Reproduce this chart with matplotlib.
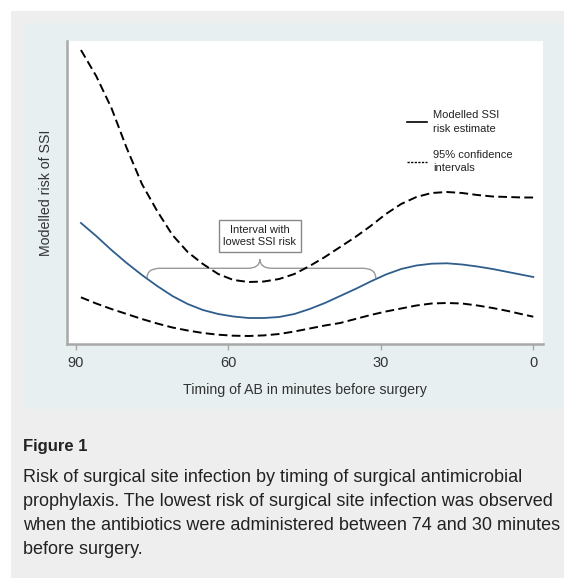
import matplotlib
matplotlib.use("Agg")
import matplotlib.pyplot as plt
from matplotlib.lines import Line2D
from matplotlib.patches import Rectangle, PathPatch
from matplotlib.path import Path

plt.rcParams["font.family"] = ["Liberation Sans", "DejaVu Sans"]

# ------------------------------
# Data (risk has no scale, arbitrary units)
# ------------------------------

minutes = [89, 86, 83, 80, 77, 74, 71, 68, 65, 62, 59, 56, 53, 50, 47, 44,
           41, 38, 35, 32, 29, 26, 23, 20, 17, 14, 11, 8, 5, 2, 0]

risk_estimate = [121, 108, 94, 81, 69, 58, 48, 40, 34, 30, 27.5, 26, 26, 27,
                 30, 35, 41, 48, 55, 62.5, 69.5, 75, 78.5, 80.3, 80.7, 79.5,
                 77.5, 75, 72, 69, 67]

ci_upper = [294, 268, 236, 196, 160, 133, 109, 92, 80, 70, 64, 62, 62.5, 65,
            70, 78, 87, 97, 107, 118, 130, 140, 147, 151, 152, 151, 149,
            147.5, 147, 146.5, 146.5]

ci_lower = [46.7, 40.5, 35, 30, 25, 20.5, 16.5, 13.5, 11, 9.3, 8.3, 8, 8.6,
            10, 12.5, 15.5, 18.5, 21, 25, 29, 32.5, 35.5, 38.5, 40.5, 41,
            40.5, 38.5, 36, 33, 29.5, 27.3]

xticks = [90, 60, 30, 0]

# interval with lowest risk (brace)
interval_start = 76
interval_end = 31

caption_title = "Figure 1"
caption_lines = [
    "Risk of surgical site infection by timing of surgical antimicrobial",
    "prophylaxis. The lowest risk of surgical site infection was observed",
    "when the antibiotics were administered between 74 and 30 minutes",
    "before surgery.",
]

# ------------------------------
# Figure + backgrounds
# ------------------------------

W, H = 564, 578
fig = plt.figure(figsize=(W / 100, H / 100), dpi=100)
fig.patch.set_facecolor("white")


def fig_box(x0, y0, x1, y1, color):
    # pixel box -> figure fraction rectangle
    fig.add_artist(Rectangle((x0 / W, 1 - y1 / H), (x1 - x0) / W, (y1 - y0) / H,
                             transform=fig.transFigure, facecolor=color,
                             edgecolor="none", zorder=-10))


fig_box(11, 11, W, H, "#eeeeee")
fig_box(23, 23, W, 409, "#e7eff1")

ax = fig.add_axes([67 / W, 1 - 344 / H, 476 / W, 303 / H])
ax.set_facecolor("white")

# ------------------------------
# Curves
# ------------------------------

ax.plot(minutes, risk_estimate, color="#2f5d8c", lw=1.3)
up, = ax.plot(minutes, ci_upper, color="black", lw=1.4)
lo, = ax.plot(minutes, ci_lower, color="black", lw=1.4)
up.set_dashes([4.5, 2.2])
lo.set_dashes([4.5, 2.2])

ax.set_xlim(91.74, -1.91)
ax.set_ylim(0, 303)

# ------------------------------
# Brace + label box
# ------------------------------

mid = (interval_start + interval_end) / 2 + 0.3
level, tip, end_y = 75.7, 84.7, 66
cw, tw = 2.6, 2.4
verts = [
    (interval_start, end_y),
    (interval_start, level), (interval_start - cw, level),
    (mid + tw, level),
    (mid, level), (mid, tip),
    (mid, level), (mid - tw, level),
    (interval_end + cw, level),
    (interval_end, level), (interval_end, end_y),
]
codes = [Path.MOVETO, Path.CURVE3, Path.CURVE3, Path.LINETO,
         Path.CURVE3, Path.CURVE3, Path.CURVE3, Path.CURVE3,
         Path.LINETO, Path.CURVE3, Path.CURVE3]
ax.add_patch(PathPatch(Path(verts, codes), fill=False, edgecolor="#999999", lw=1))

ax.text(mid, 108, "Interval with\nlowest SSI risk", ha="center", va="center",
        fontsize=8, color="#222222", linespacing=1.35,
        bbox=dict(boxstyle="square,pad=0.4", fc="white", ec="#888888", lw=1))

# ------------------------------
# Legend
# ------------------------------

handles = [Line2D([], [], color="black", lw=1.2),
           Line2D([], [], color="black", lw=1.0, dashes=(1.6, 1.0))]
labels = ["Modelled SSI\nrisk estimate", "95% confidence\nintervals"]
leg = ax.legend(handles, labels, loc="upper left", bbox_to_anchor=(0.714, 0.772),
                frameon=False, fontsize=8, handlelength=1.8, handletextpad=0.55,
                labelspacing=1.45, borderpad=0, borderaxespad=0)
for t in leg.get_texts():
    t.set_linespacing(1.45)
    t.set_color("#222222")

# ------------------------------
# Axes styling
# ------------------------------

for s in ["top", "right"]:
    ax.spines[s].set_visible(False)
for s in ["left", "bottom"]:
    ax.spines[s].set_color("#a8a8a8")
    ax.spines[s].set_linewidth(1.8)

ax.set_xticks(xticks)
ax.set_xticklabels([str(t) for t in xticks])
ax.set_yticks([])
ax.tick_params(axis="x", length=4.3, width=1, color="#a8a8a8", pad=4,
               labelsize=10.5, labelcolor="#333333")

ax.set_xlabel("Timing of AB in minutes before surgery", fontsize=10.2,
              color="#333333", labelpad=10)
ax.set_ylabel("Modelled risk of SSI", fontsize=10.2, color="#333333", labelpad=10)

# ------------------------------
# Caption
# ------------------------------

fig.text(23 / W, 1 - 447 / H, caption_title, fontsize=12, fontweight="bold",
         color="#222222", va="center")
for i, line in enumerate(caption_lines):
    fig.text(23 / W, 1 - (477 + 24 * i) / H, line, fontsize=12.95,
             color="#222222", va="center")

fig.savefig("out.png", dpi=100)
